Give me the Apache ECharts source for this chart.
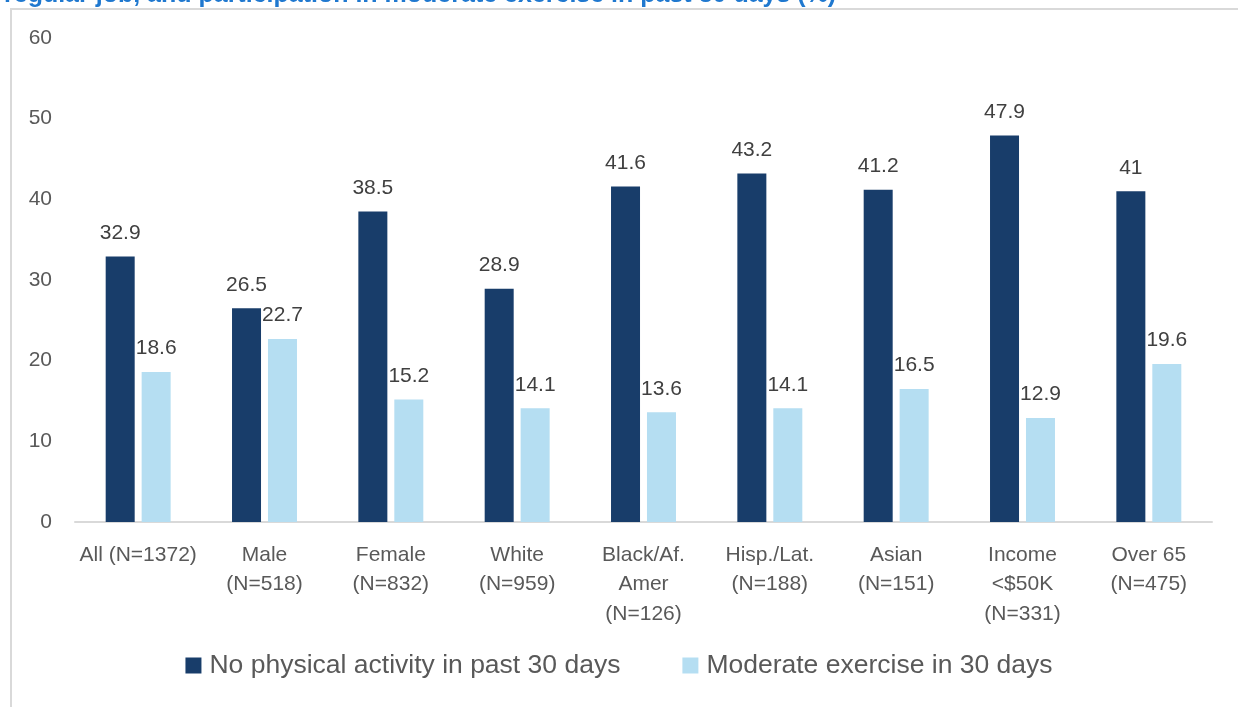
<!DOCTYPE html>
<html>
<head>
<meta charset="utf-8">
<script src="https://cdn.jsdelivr.net/npm/echarts@6/dist/echarts.min.js"></script>
<style>html,body{margin:0;padding:0;background:#fff;}#c{width:1238px;height:707px;}</style>
</head>
<body>
<div id="c"></div>
<script>
var categories = ['All (N=1372)', 'Male\n(N=518)', 'Female\n(N=832)', 'White\n(N=959)', 'Black/Af.\nAmer\n(N=126)', 'Hisp./Lat.\n(N=188)', 'Asian\n(N=151)', 'Income\n<$50K\n(N=331)', 'Over 65\n(N=475)'];
var seriesNames = ['No physical activity in past 30 days', 'Moderate exercise in 30 days'];
var noActivity = [32.9, 26.5, 38.5, 28.9, 41.6, 43.2, 41.2, 47.9, 41];
var moderate = [18.6, 22.7, 15.2, 14.1, 13.6, 14.1, 16.5, 12.9, 19.6];
var yTicks = [0, 10, 20, 30, 40, 50, 60];
var titleText = 'regular job, and participation in moderate exercise in past 30 days (%)';

var FONT = '"Liberation Sans", sans-serif';
var chart = echarts.init(document.getElementById('c'), null, {renderer: 'canvas'});
chart.setOption({
  animation: false,
  backgroundColor: '#ffffff',
  textStyle: {fontFamily: FONT},
  title: {
    text: titleText,
    left: 4,
    top: -17,
    padding: 0,
    textStyle: {color: '#1f78cf', fontSize: 25, fontWeight: 'bold', fontFamily: FONT}
  },
  graphic: [{
    type: 'rect',
    shape: {x: 11, y: 9, width: 1400, height: 900},
    style: {fill: 'none', stroke: '#d9d9d9', lineWidth: 2},
    silent: true,
    z: -1
  }],
  legend: {
    data: seriesNames,
    bottom: 23,
    left: 'center',
    itemWidth: 16,
    itemHeight: 16,
    itemGap: 62,
    icon: 'rect',
    textStyle: {color: '#595959', fontSize: 26.5, fontFamily: FONT, padding: [0, 0, 0, 3]}
  },
  grid: {left: 75, right: 26, top: 38, bottom: 185, containLabel: false},
  xAxis: {
    type: 'category',
    data: categories,
    axisLine: {show: true, lineStyle: {color: '#d9d9d9', width: 2}},
    axisTick: {show: false},
    axisLabel: {color: '#595959', fontSize: 21, lineHeight: 29.5, margin: 18, interval: 0, fontFamily: FONT}
  },
  yAxis: {
    type: 'value',
    min: yTicks[0],
    max: yTicks[yTicks.length - 1],
    interval: 10,
    splitLine: {show: false},
    axisLine: {show: false},
    axisTick: {show: false},
    axisLabel: {color: '#595959', fontSize: 21, margin: 23, fontFamily: FONT}
  },
  series: [{
    name: seriesNames[0],
    type: 'bar',
    data: noActivity,
    barWidth: 29,
    barGap: '24%',
    itemStyle: {color: '#183d6a'},
    label: {show: true, position: 'top', distance: 13, color: '#404040', fontSize: 21, fontFamily: FONT}
  }, {
    name: seriesNames[1],
    type: 'bar',
    data: moderate,
    barWidth: 29,
    itemStyle: {color: '#b5def2'},
    label: {show: true, position: 'top', distance: 13, color: '#404040', fontSize: 21, fontFamily: FONT}
  }]
});
</script>
</body>
</html>
